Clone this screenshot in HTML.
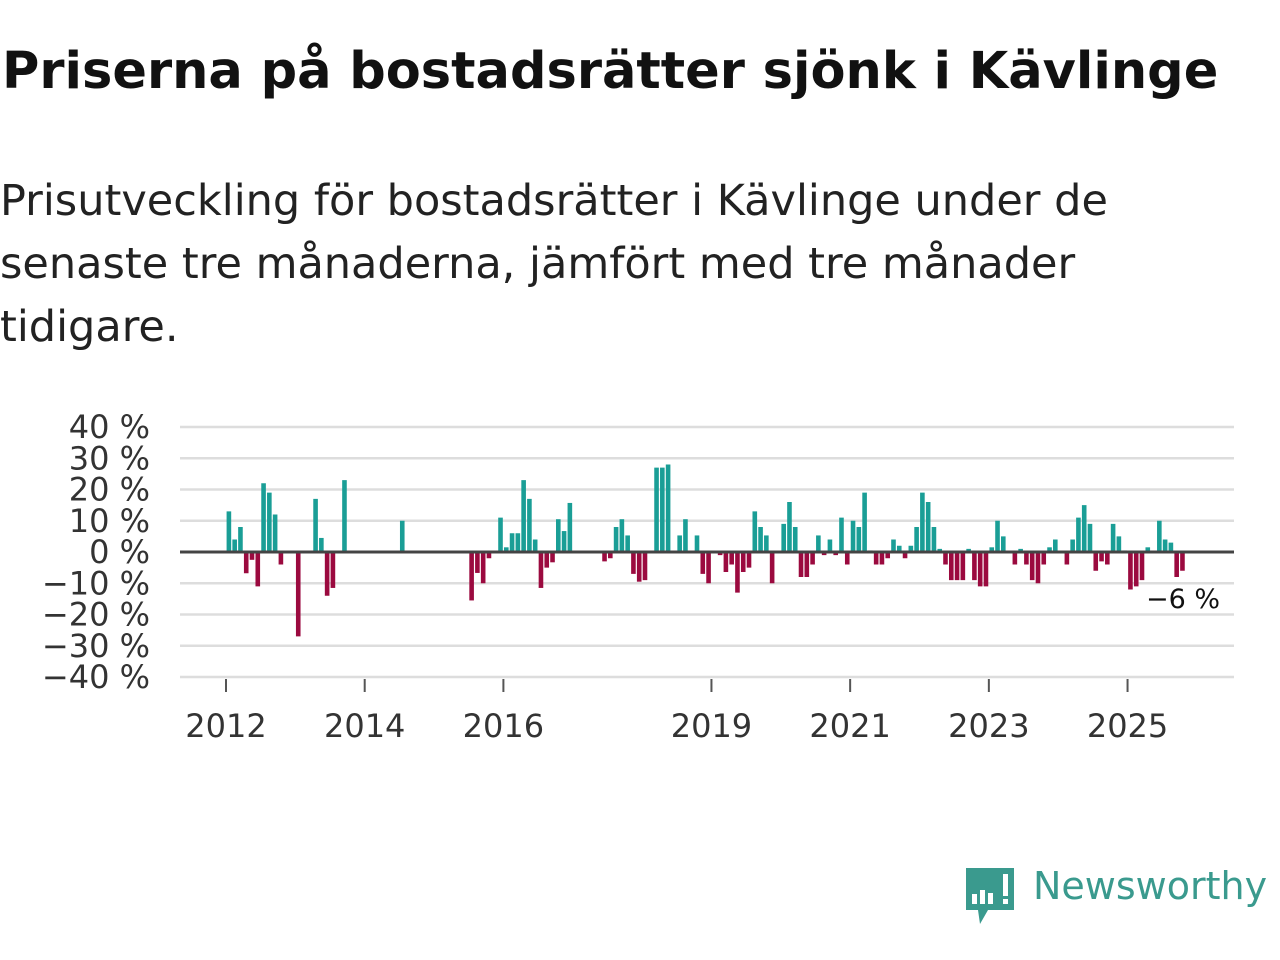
<!DOCTYPE html>
<html><head><meta charset="utf-8">
<style>
html,body{margin:0;padding:0;background:#fff;width:1280px;height:960px;overflow:hidden;font-family:"DejaVu Sans","Liberation Sans",sans-serif;}
#title{position:absolute;left:2px;top:42px;font-size:51px;font-weight:bold;color:#111;white-space:nowrap;}
#subtitle{position:absolute;left:0px;top:170px;font-size:43px;line-height:63px;color:#222;white-space:nowrap;}
svg{position:absolute;left:0;top:0;}
#logo-text{position:absolute;left:1033px;top:864px;font-size:38px;color:#3a9a8e;white-space:nowrap;}
</style></head><body>
<div id="title">Priserna på bostadsrätter sjönk i Kävlinge</div>
<div id="subtitle">Prisutveckling för bostadsrätter i Kävlinge under de<br>senaste tre månaderna, jämfört med tre månader<br>tidigare.</div>
<svg id="chart" width="1280" height="960"></svg>
<svg width="1280" height="960" style="pointer-events:none">
<path d="M966 868 h48 v42 h-26 l-8 14 l-2 -14 h-12 z" fill="#3a9a8e"/>
<rect x="972" y="894" width="5" height="10" fill="#fff"/>
<rect x="980" y="890" width="5" height="14" fill="#fff"/>
<rect x="988" y="893" width="5" height="11" fill="#fff"/>
<rect x="1003" y="874" width="5" height="22" fill="#fff"/>
<rect x="1003" y="899" width="5" height="5" fill="#fff"/>
</svg>
<div id="logo-text">Newsworthy</div>
<script>
const startYear = 2012;
const values = [
13,4,8,-6.8,-2.5,-11,22,19,12,-4,null,null,-27,null,null,17,4.5,-14,-11.5,null,
23,null,null,null,null,null,null,null,null,null,10,null,null,null,null,null,null,null,null,null,
null,null,-15.5,-6.7,-10,-2,null,11,1.5,6,6,23,17,4,-11.5,-5,-3.3,10.5,6.7,15.7,
null,null,null,null,null,-3,-2,8,10.5,5.3,-7,-9.5,-9,null,27,27,28,null,5.3,10.5,
null,5.3,-7,-10,null,-1,-6.4,-4,-13,-6.4,-5,13,8,5.3,-10,null,9,16,8,-8,
-8,-4,5.3,-1,4,-1,11,-4,10,8,19,0.5,-4,-4,-2,4,2,-2,2,8,
19,16,8,1,-4,-9,-9,-9,1,-9,-11,-11,1.5,10,5,null,-4,1,-4,-9,
-10,-4,1.5,4,null,-4,4,11,15,9,-6,-3,-4,9,5,0.5,-12,-11,-9,1.5,
null,10,4,3,-8,-6
];
const yTicks = [40,30,20,10,0,-10,-20,-30,-40];
const yTickLabels = ["40 %","30 %","20 %","10 %","0 %","−10 %","−20 %","−30 %","−40 %"];
const xTickYears = [2012,2014,2016,2019,2021,2023,2025];
const lastLabel = "−6 %";

const svg = document.getElementById('chart');
const NS = 'http://www.w3.org/2000/svg';
const FONT = 'DejaVu Sans, Liberation Sans, sans-serif';
const X0 = 226, monthW = 69.35/12, plotL = 180, plotR = 1234;
const xMonth = i => X0 + i*monthW;
const y = v => 552 - v*3.125;
function el(tag, attrs){const e=document.createElementNS(NS,tag);for(const k in attrs)e.setAttribute(k,attrs[k]);svg.appendChild(e);return e;}

yTicks.forEach((t,k)=>{
  if(t!==0){
    const g = el('line',{x1:plotL,x2:plotR,y1:y(t),y2:y(t),stroke:'#dddddd','stroke-width':2.5});
    
    
  }
  const tx = el('text',{x:150,y:y(t)+11,'text-anchor':'end','font-size':32,fill:'#333','font-family':FONT});
  tx.textContent = yTickLabels[k];
  
  
});
xTickYears.forEach(yr=>{
  const x = xMonth((yr-startYear)*12);
  const tk = el('line',{x1:x,x2:x,y1:679,y2:692,stroke:'#555','stroke-width':2});
  
  
  const tx = el('text',{x:x,y:737,'text-anchor':'middle','font-size':32,fill:'#333','font-family':FONT});
  tx.textContent = yr;
  
  
});
values.forEach((v,i)=>{
  if(v===null) return;
  const cx = xMonth(i+0.5);
  const top = Math.min(y(v),y(0)), h = Math.abs(y(v)-y(0));
  const r = el('rect',{x:cx-2.3,y:top,width:4.6,height:h,fill:v>=0?'#1a9e96':'#9b0a3f'});
  
  
});
const z = el('line',{x1:plotL,x2:plotR,y1:y(0),y2:y(0),stroke:'#444','stroke-width':3});


const lt = el('text',{x:1220,y:608,'text-anchor':'end','font-size':27,fill:'#111','font-family':FONT});
lt.textContent = lastLabel;


</script>
</body></html>
